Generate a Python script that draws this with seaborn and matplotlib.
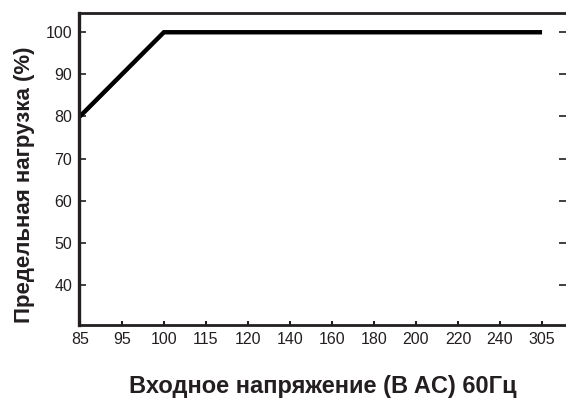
import matplotlib
matplotlib.use("Agg")
import matplotlib.pyplot as plt
import seaborn as sns
import pandas as pd

# Data
tick_labels = ["85", "95", "100", "115", "120", "140", "160", "180", "200", "220", "240", "305"]
load_voltage = ["85", "100", "305"]
load_percent = [80, 100, 100]
y_ticks = [40, 50, 60, 70, 80, 90, 100]

sns.set_theme(style="white")
plt.rcParams['font.family'] = ['Liberation Sans', 'DejaVu Sans']

W, H = 566, 403
fig = plt.figure(figsize=(W / 100, H / 100), dpi=100)
ax_left, ax_bottom_px, ax_top_px = 79, 325, 13.3
ax = fig.add_axes([ax_left / W, (H - ax_bottom_px) / H, (W - ax_left) / W,
                   (ax_bottom_px - ax_top_px) / H])

df = pd.DataFrame({
    "pos": [tick_labels.index(v) for v in load_voltage],
    "load": load_percent,
})
sns.lineplot(data=df, x="pos", y="load", ax=ax, color="black", linewidth=3.2,
             solid_capstyle="butt", solid_joinstyle="miter")

ax.set_xlim(-0.02, 11.57)
ax.set_ylim(30.5, 104.5)
ax.set_xticks(range(len(tick_labels)))
ax.set_xticklabels(tick_labels)
ax.set_yticks(y_ticks)
ax.set_yticklabels([str(v) for v in y_ticks])

txtc = "#231f20"
ax.tick_params(axis="x", direction="in", length=3, width=1.5, colors=txtc,
               labelsize=11.5, pad=5, bottom=True)
ax.tick_params(axis="y", direction="in", length=5, width=1.2, colors=txtc,
               labelsize=11.5, pad=5, left=True, right=True)

for side in ["left", "top", "bottom"]:
    ax.spines[side].set_visible(True)
    ax.spines[side].set_color(txtc)
ax.spines["left"].set_linewidth(2.4)
ax.spines["top"].set_linewidth(2.0)
ax.spines["bottom"].set_linewidth(2.0)
ax.spines["right"].set_visible(False)

ax_w = W - ax_left
ax_h = ax_bottom_px - ax_top_px
ax.set_xlabel("Входное напряжение (В AC) 60Гц", fontsize=17, fontweight="bold",
              color=txtc, va="center", ha="center")
ax.xaxis.set_label_coords((322.5 - ax_left) / ax_w, (ax_bottom_px - 386) / ax_h)
ax.set_ylabel("Предельная нагрузка (%)", fontsize=16, fontweight="bold",
              color=txtc, va="center", ha="center")
ax.yaxis.set_label_coords((25 - ax_left) / ax_w, (ax_bottom_px - 185) / ax_h)

fig.savefig("out.png", dpi=100)
